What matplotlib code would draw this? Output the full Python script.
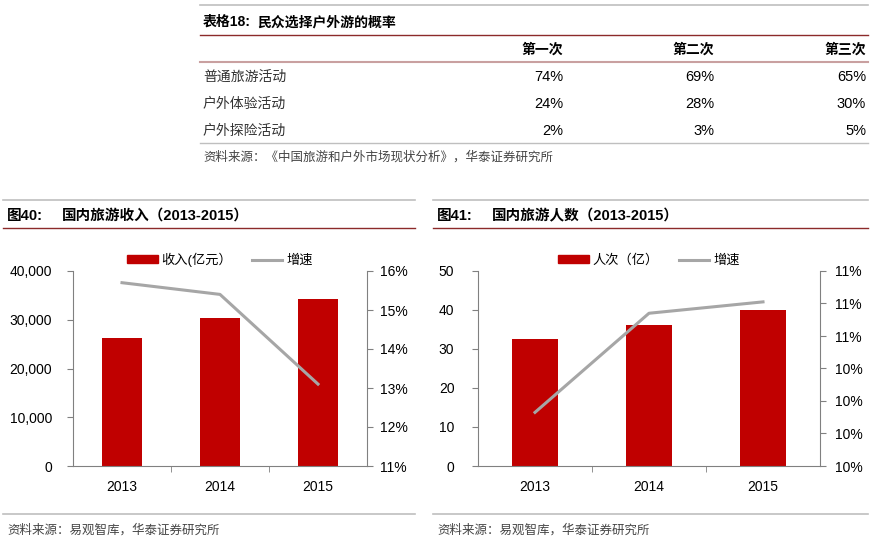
import matplotlib
matplotlib.use("Agg")
import matplotlib.pyplot as plt
from matplotlib.lines import Line2D
from matplotlib.patches import Patch
from matplotlib.ticker import FuncFormatter, FixedLocator
import numpy as np

plt.rcParams['font.family'] = ['Liberation Sans', 'Noto Sans CJK SC']

# table data
table_cols = ["第一次", "第二次", "第三次"]
table_rows = ["普通旅游活动", "户外体验活动", "户外探险活动"]
table_vals = [["74%", "69%", "65%"],
              ["24%", "28%", "30%"],
              ["2%", "3%", "5%"]]

# chart 40
years = ["2013", "2014", "2015"]
income = [26276, 30312, 34195]
income_growth = [15.7, 15.4, 13.1]

# chart 41
visitors = [32.6, 36.1, 40.0]
visitors_growth = [10.13, 10.74, 10.81]

W, H = 875, 544
RED = "#C00000"
GRAY = "#A6A6A6"
AXGRAY = "#808080"
TITLE_LINE = "#8C2A2A"
SEP_GRAY = "#BFBFBF"

fig = plt.figure(figsize=(W / 100, H / 100), dpi=100)


def fx(px):
    return px / W


def fy(py):
    return 1 - py / H


def hline(x0, x1, y, color, lw=1.0):
    fig.add_artist(Line2D([fx(x0), fx(x1)], [fy(y), fy(y)], color=color, lw=lw))


def ftext(x, y, s, **kw):
    kw.setdefault("va", "center")
    kw.setdefault("fontsize", 10)
    fig.text(fx(x), fy(y), s, **kw)


# ---- top table ----
hline(200, 868, 5, SEP_GRAY, 1.2)
ftext(203, 22, "表格18:", fontweight="bold")
ftext(257, 22, "民众选择户外游的概率", fontweight="bold")
hline(200, 868, 35, TITLE_LINE, 1.0)
col_x = [563, 714, 866]
for x, c in zip(col_x, table_cols):
    ftext(x, 50, c, ha="right", fontweight="bold")
hline(200, 868, 62, "#C9A0A0", 1.5)
row_y = [77, 104, 131]
for y, name, vals in zip(row_y, table_rows, table_vals):
    ftext(203, y, name, color="#333333")
    for x, v in zip(col_x, vals):
        ftext(x, y, v, ha="right", fontsize=10.5)
hline(200, 868, 143, SEP_GRAY, 1.0)
ftext(203, 157, "资料来源：《中国旅游和户外市场现状分析》，华泰证券研究所", fontsize=9, color="#444444")


def chart(left_px, right_px, title_x, num, title, vals, growth, ylim, yticks, yfmt,
          g_lim, g_ticks, g_fmt, bar_label, pad_l, pad_r):
    ax = fig.add_axes([fx(left_px), fy(466), fx(right_px - left_px), 195 / H])
    x = np.arange(len(years))
    ax.bar(x, vals, width=0.4, color=RED, zorder=2)
    ax.set_xlim(-0.5, len(years) - 0.5)
    ax.set_ylim(*ylim)
    ax.set_yticks(yticks)
    ax.yaxis.set_major_formatter(FuncFormatter(yfmt))
    ax.set_xticks(x)
    ax.set_xticklabels(years)
    ax.xaxis.set_minor_locator(FixedLocator([0.5, 1.5]))
    ax.tick_params(axis="x", which="major", length=0, pad=10, labelsize=10)
    ax.tick_params(axis="x", which="minor", length=4, color=AXGRAY, direction="out")
    ax.tick_params(axis="y", length=4, color=AXGRAY, pad=pad_l, labelsize=10)
    for s in ["top", "right"]:
        ax.spines[s].set_visible(False)
    for s in ["left", "bottom"]:
        ax.spines[s].set_color(AXGRAY)

    ax2 = ax.twinx()
    ax2.plot(x, growth, color=GRAY, lw=2.2, zorder=3)
    ax2.set_ylim(*g_lim)
    ax2.set_yticks(g_ticks)
    ax2.yaxis.set_major_formatter(FuncFormatter(g_fmt))
    ax2.tick_params(axis="y", length=4, color=AXGRAY, pad=pad_r, labelsize=10)
    for s in ["top", "left", "bottom"]:
        ax2.spines[s].set_visible(False)
    ax2.spines["right"].set_color(AXGRAY)

    handles = [Patch(color=RED), Line2D([0], [0], color=GRAY, lw=2.2)]
    ax2.legend(handles, [bar_label, "增速"], loc="lower center", bbox_to_anchor=(0.5, 1.0),
               ncol=2, frameon=False, fontsize=9.5, handlelength=2.3, handleheight=0.55,
               columnspacing=1.5, borderaxespad=-0.1, handletextpad=0.3)

    sep_l = title_x - 4
    sep_r = 415 if title_x < 400 else 868
    hline(sep_l, sep_r, 200, SEP_GRAY, 1.2)
    ftext(title_x, 216, num, fontweight="bold", fontsize=10.5)
    ftext(title_x + 55, 216, title, fontweight="bold", fontsize=10.5)
    hline(sep_l, sep_r, 228, TITLE_LINE, 1.0)
    hline(sep_l, sep_r, 514, SEP_GRAY, 1.2)
    ftext(title_x, 530, "资料来源：易观智库，华泰证券研究所", fontsize=9, color="#444444")
    return ax


chart(73, 367, 7, "图40:", "国内旅游收入（2013-2015）", income, income_growth,
      (0, 40000), [0, 10000, 20000, 30000, 40000], lambda v, p: f"{int(v):,}",
      (11, 16), [11, 12, 13, 14, 15, 16], lambda v, p: f"{v:.0f}%",
      "收入(亿元）", 11, 5)

chart(478, 820, 437, "图41:", "国内旅游人数（2013-2015）", visitors, visitors_growth,
      (0, 50), [0, 10, 20, 30, 40, 50], lambda v, p: f"{int(v)}",
      (9.8, 11.0), [9.8, 10.0, 10.2, 10.4, 10.6, 10.8, 11.0], lambda v, p: f"{v:.0f}%",
      "人次（亿）", 13, 7)

fig.savefig("out.png", dpi=100)
